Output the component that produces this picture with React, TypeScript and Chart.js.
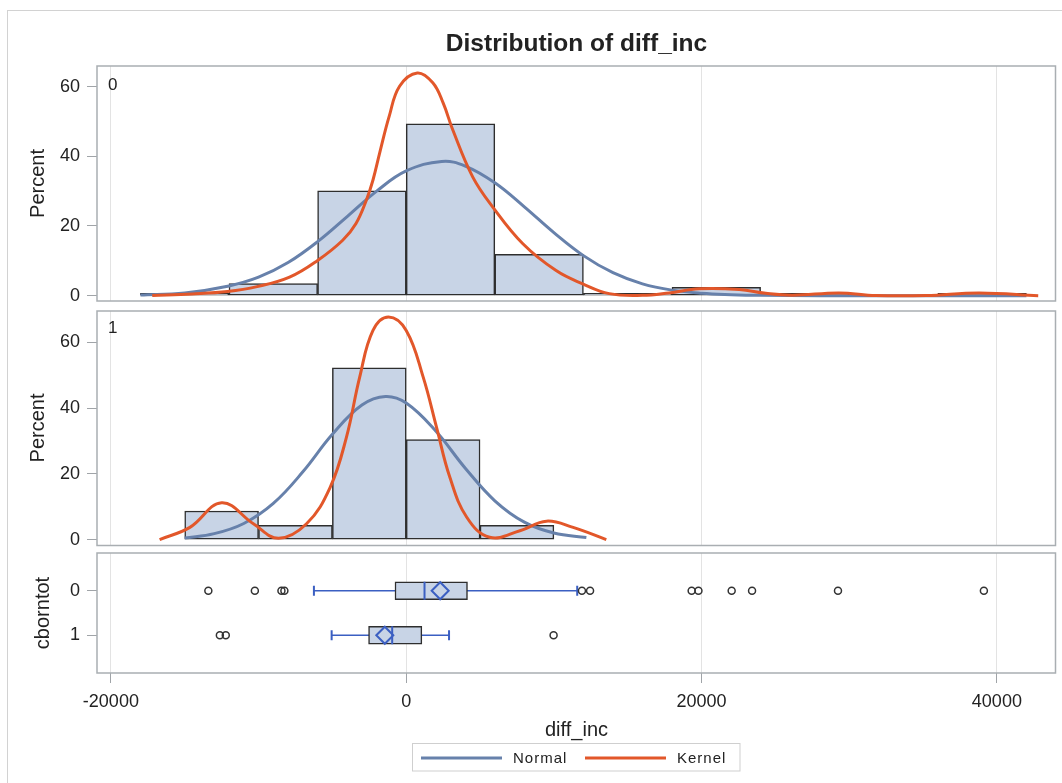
import React, { useEffect, useRef } from "react";
import { Chart, registerables } from "chart.js";
Chart.register(...registerables);

const FONT = '"Liberation Sans", Arial, sans-serif';
const BAR_FILL = "#c8d4e6";
const BAR_EDGE = "#2e2e2e";
const NORMAL_C = "#6781ab";
const KERNEL_C = "#e2572a";
const BOX_BLUE = "#3b5fc2";
const GRID_C = "#e3e3e3";
const PANEL_C = "#a9aeb2";
const TICK_C = "#a0a4a8";
const TEXT_C = "#222222";

// shared x axis
const X_MIN = -20940;
const X_MAX = 43970;
const xTicks = [-20000, 0, 20000, 40000];

// cborntot = 0 : histogram (bin width 6000)
const bins0 = [-15000, -9000, -3000, 3000, 9000, 15000, 21000, 27000, 39000];
const pct0 = [0.7, 3.5, 30.1, 49.3, 11.9, 0.7, 2.4, 0.7, 0.7];
const normal0X = [-18000, -15000, -12000, -10000, -8000, -6000, -4000, -2000, 0, 2400, 4000, 6000, 8000, 10000, 12000, 14000, 16000, 18000, 20000, 22000, 24000, 28000, 42000];
const normal0Y = [0.2, 0.8, 2.8, 5.3, 9.5, 15.5, 22.7, 30.0, 35.8, 38.5, 37.2, 32.4, 25.5, 18.1, 11.5, 6.6, 3.4, 1.6, 0.7, 0.3, 0.1, 0, 0];
const kernel0X = [-17200, -14500, -12100, -10100, -7900, -6000, -4300, -3400, -2700, -2250, -1800, -1150, -450, 750, 1800, 2500, 3150, 4500, 5850, 7900, 10150, 11950, 13750, 16000, 17800, 19850, 22550, 24350, 26150, 29300, 31800, 35200, 38800, 42800];
const kernel0Y = [0.05, 0.5, 1.2, 2.6, 5.3, 10.1, 15.9, 20.7, 27.4, 33.2, 40.9, 51.5, 60.1, 63.9, 61.1, 55.3, 47.6, 34.1, 25.5, 14.9, 7.2, 3.4, 0.6, 0.1, 0.8, 2.0, 1.8, 0.7, 0.15, 0.8, 0.05, 0.05, 0.8, 0];

// cborntot = 1 : histogram (bin width 5000)
const bins1 = [-12500, -7500, -2500, 2500, 7500];
const pct1 = [8.7, 4.3, 52.2, 30.4, 4.3];
const normal1X = [-15000, -13000, -11000, -9000, -7000, -5000, -3000, -1400, 0, 2000, 4000, 6000, 8000, 10000, 12200];
const normal1Y = [0.5, 1.8, 4.9, 11.0, 20.6, 32.0, 40.9, 43.5, 41.5, 33.0, 21.7, 11.8, 5.3, 2.0, 0.6];
const kernel1X = [-16700, -14650, -12500, -10350, -8650, -6750, -5150, -4050, -3150, -2250, -1200, 0, 1150, 2050, 2950, 4100, 5650, 7700, 9500, 11300, 13550];
const kernel1Y = [0, 3.7, 11.2, 4.8, 0.4, 4.8, 15.9, 31.1, 49.4, 63.6, 67.7, 63.6, 49.4, 34.2, 19.0, 6.8, 0.7, 2.7, 5.6, 3.7, 0];

// box plots
const groups = [0, 1];
const groupLabels = ["0", "1"];
const q1 = [-760, -2550];
const medians = [1240, -950];
const q3 = [4150, 1060];
const means = [2300, -1450];
const wLow = [-6250, -5050];
const wHigh = [11580, 2900];
const outliers0 = [-13400, -10250, -8450, -8250, 11900, 12450, 19330, 19790, 22040, 23420, 29240, 39120];
const outliers1 = [-12620, -12220, 9980];

const pctTicks = [0, 20, 40, 60];

type TextItem = {
  s: string; x: number; y: number; size: number; bold?: boolean;
  align?: CanvasTextAlign; rot?: boolean; spacing?: string;
};

function drawText(ctx: CanvasRenderingContext2D, t: TextItem) {
  ctx.save();
  ctx.font = `${t.bold ? "bold " : ""}${t.size}px ${FONT}`;
  ctx.fillStyle = TEXT_C;
  ctx.textAlign = t.align || "left";
  ctx.textBaseline = "alphabetic";
  (ctx as any).letterSpacing = t.spacing || "0px";
  ctx.translate(t.x, t.y);
  if (t.rot) ctx.rotate(-Math.PI / 2);
  ctx.fillText(t.s, 0, 0);
  ctx.restore();
}

function panelPlugin(texts: TextItem[], extra?: (ctx: CanvasRenderingContext2D) => void) {
  return {
    id: "panelDeco",
    afterDraw(chart: any) {
      const { ctx, chartArea: a } = chart;
      ctx.save();
      ctx.strokeStyle = PANEL_C;
      ctx.lineWidth = 1.5;
      ctx.strokeRect(a.left, a.top, a.right - a.left, a.bottom - a.top);
      ctx.restore();
      texts.forEach((t) => drawText(ctx, t));
      if (extra) extra(ctx);
    },
  };
}

function xScale(showLabels: boolean, height: number) {
  return {
    type: "linear",
    min: X_MIN,
    max: X_MAX,
    offset: false,
    afterBuildTicks: (s: any) => { s.ticks = xTicks.map((v) => ({ value: v })); },
    afterFit: (s: any) => { s.height = height; },
    grid: { offset: false, color: GRID_C, lineWidth: 1, drawTicks: showLabels, tickLength: 10, tickColor: TICK_C },
    border: { display: false },
    ticks: {
      display: showLabels, autoSkip: false, maxRotation: 0, minRotation: 0,
      font: { family: FONT, size: 18 }, color: TEXT_C, padding: 8,
      callback: (v: any) => String(v),
    },
  };
}

function yScale(min: number, max: number, tickVals: number[], labels?: string[], reverse = false) {
  return {
    type: "linear",
    min, max, reverse,
    offset: false,
    afterBuildTicks: (s: any) => { s.ticks = tickVals.map((v) => ({ value: v })); },
    afterFit: (s: any) => { s.width = 97; },
    grid: { offset: false, drawOnChartArea: false, drawTicks: true, tickLength: 10, tickColor: TICK_C },
    border: { display: false },
    ticks: {
      font: { family: FONT, size: 18 }, color: TEXT_C, padding: 7,
      callback: (v: any) => (labels ? labels[tickVals.indexOf(v)] ?? "" : String(v)),
    },
  };
}

function histDatasets(bins: number[], pct: number[], nX: number[], nY: number[], kX: number[], kY: number[]) {
  return [
    {
      type: "bar",
      data: bins.map((c, i) => ({ x: c, y: pct[i] })),
      backgroundColor: BAR_FILL, borderColor: BAR_EDGE, borderWidth: 1.5,
      borderSkipped: false, barPercentage: 1, categoryPercentage: 1, grouped: false, order: 3,
    },
    {
      type: "line",
      data: nX.map((x, i) => ({ x, y: nY[i] })),
      borderColor: NORMAL_C, borderWidth: 3, pointRadius: 0, tension: 0.4, fill: false, order: 2,
    },
    {
      type: "line",
      data: kX.map((x, i) => ({ x, y: kY[i] })),
      borderColor: KERNEL_C, borderWidth: 3, pointRadius: 0, tension: 0.4, fill: false, order: 1,
    },
  ];
}

const baseOpts = {
  responsive: false,
  animation: false,
  events: [],
  plugins: { legend: { display: false }, tooltip: { enabled: false }, title: { display: false } },
};

// canvas placements (page y): A 0..326, B 286..571, C 528..783
const A_TOP = 0, A_H = 326;
const B_TOP = 286, B_H = 285;
const C_TOP = 528, C_H = 255;

export default function App() {
  const refA = useRef<HTMLCanvasElement>(null);
  const refB = useRef<HTMLCanvasElement>(null);
  const refC = useRef<HTMLCanvasElement>(null);

  useEffect(() => {
    const charts: Chart[] = [];

    // Top panel (cborntot = 0): area 66..301
    charts.push(new Chart(refA.current!, {
      type: "bar",
      data: { datasets: histDatasets(bins0, pct0, normal0X, normal0Y, kernel0X, kernel0Y) as any },
      options: {
        ...baseOpts,
        layout: { padding: { top: 66 - A_TOP, bottom: A_TOP + A_H - 301, left: 0, right: 6.5 }, autoPadding: false },
        scales: { x: xScale(false, 0) as any, y: yScale(-1.52, 65.9, pctTicks) as any },
      } as any,
      plugins: [panelPlugin([
        { s: "Distribution of diff_inc", x: 576.5, y: 51 - A_TOP, size: 24.5, bold: true, align: "center" },
        { s: "Percent", x: 43.7, y: 183.5 - A_TOP, size: 20, rot: true, align: "center" },
        { s: "0", x: 108, y: 90 - A_TOP, size: 17 },
      ])],
    }));

    // Middle panel (cborntot = 1): area 311..545.5
    charts.push(new Chart(refB.current!, {
      type: "bar",
      data: { datasets: histDatasets(bins1, pct1, normal1X, normal1Y, kernel1X, kernel1Y) as any },
      options: {
        ...baseOpts,
        layout: { padding: { top: 311 - B_TOP, bottom: B_TOP + B_H - 545.5, left: 0, right: 6.5 }, autoPadding: false },
        scales: { x: xScale(false, 0) as any, y: yScale(-1.8, 69.5, pctTicks) as any },
      } as any,
      plugins: [panelPlugin([
        { s: "Percent", x: 43.7, y: 428 - B_TOP, size: 20, rot: true, align: "center" },
        { s: "1", x: 108, y: 333 - B_TOP, size: 17 },
      ])],
    }));

    // Box plot panel: area 553..673
    const legend = (ctx: CanvasRenderingContext2D) => {
      const o = C_TOP;
      ctx.save();
      ctx.strokeStyle = "#cfcfcf";
      ctx.lineWidth = 1;
      ctx.strokeRect(412.5, 743.5 - o, 327.5, 27.5);
      ctx.lineWidth = 3;
      ctx.strokeStyle = NORMAL_C;
      ctx.beginPath(); ctx.moveTo(421, 758 - o); ctx.lineTo(502, 758 - o); ctx.stroke();
      ctx.strokeStyle = KERNEL_C;
      ctx.beginPath(); ctx.moveTo(585, 758 - o); ctx.lineTo(666, 758 - o); ctx.stroke();
      ctx.restore();
      drawText(ctx, { s: "Normal", x: 513, y: 763 - o, size: 15, spacing: "1px" });
      drawText(ctx, { s: "Kernel", x: 677, y: 763 - o, size: 15, spacing: "1px" });
    };

    const boxDatasets: any[] = [
      ...groups.map((g) => ({
        type: "line",
        data: [{ x: wLow[g], y: g }, { x: wHigh[g], y: g }],
        borderColor: BOX_BLUE, borderWidth: 1.5,
        pointStyle: "line", pointRotation: 90, pointRadius: 5,
        pointBorderColor: BOX_BLUE, pointBorderWidth: 2, order: 5,
      })),
      {
        type: "bar", indexAxis: "y",
        data: groups.map((g) => ({ y: g, x: [q1[g], q3[g]] })),
        backgroundColor: BAR_FILL, borderColor: BAR_EDGE, borderWidth: 1.5,
        borderSkipped: false, barThickness: 18, order: 4,
      },
      {
        type: "scatter",
        data: groups.map((g) => ({ x: medians[g], y: g })),
        pointStyle: "line", pointRotation: 90, pointRadius: 9,
        borderColor: BOX_BLUE, pointBorderColor: BOX_BLUE, pointBorderWidth: 2, order: 2,
      },
      {
        type: "scatter",
        data: groups.map((g) => ({ x: means[g], y: g })),
        pointStyle: "rectRot", pointRadius: 8.5,
        borderColor: BOX_BLUE, pointBorderColor: BOX_BLUE, pointBackgroundColor: "rgba(0,0,0,0)",
        pointBorderWidth: 2, order: 1,
      },
      {
        type: "scatter",
        data: [
          ...outliers0.map((x) => ({ x, y: 0 })),
          ...outliers1.map((x) => ({ x, y: 1 })),
        ],
        pointStyle: "circle", pointRadius: 3.5,
        borderColor: "#333333", pointBorderColor: "#333333", pointBackgroundColor: "rgba(0,0,0,0)",
        pointBorderWidth: 1.5, order: 1,
      },
    ];

    charts.push(new Chart(refC.current!, {
      type: "bar",
      data: { datasets: boxDatasets },
      options: {
        ...baseOpts,
        layout: { padding: { top: 553 - C_TOP, bottom: 0, left: 0, right: 6.5 }, autoPadding: false },
        scales: {
          x: xScale(true, C_TOP + C_H - 673) as any,
          y: yScale(-0.85, 1.85, groups, groupLabels, true) as any,
        },
      } as any,
      plugins: [panelPlugin([
        { s: "cborntot", x: 49, y: 613 - C_TOP, size: 20, rot: true, align: "center" },
        { s: "diff_inc", x: 576.5, y: 736 - C_TOP, size: 20, align: "center" },
      ], legend)],
    }));

    return () => charts.forEach((c) => c.destroy());
  }, []);

  const cv = (top: number, h: number): React.CSSProperties => ({
    position: "absolute", left: 0, top, width: 1062, height: h, display: "block",
  });

  return (
    <div>
      <div
        style={{
          position: "absolute", left: 7, top: 10, width: 1055, height: 773,
          borderTop: "1px solid #d2d2d2", borderLeft: "1px solid #d2d2d2", boxSizing: "border-box",
        }}
      />
      <canvas ref={refA} width={1062} height={A_H} style={cv(A_TOP, A_H)} />
      <canvas ref={refB} width={1062} height={B_H} style={cv(B_TOP, B_H)} />
      <canvas ref={refC} width={1062} height={C_H} style={cv(C_TOP, C_H)} />
    </div>
  );
}
